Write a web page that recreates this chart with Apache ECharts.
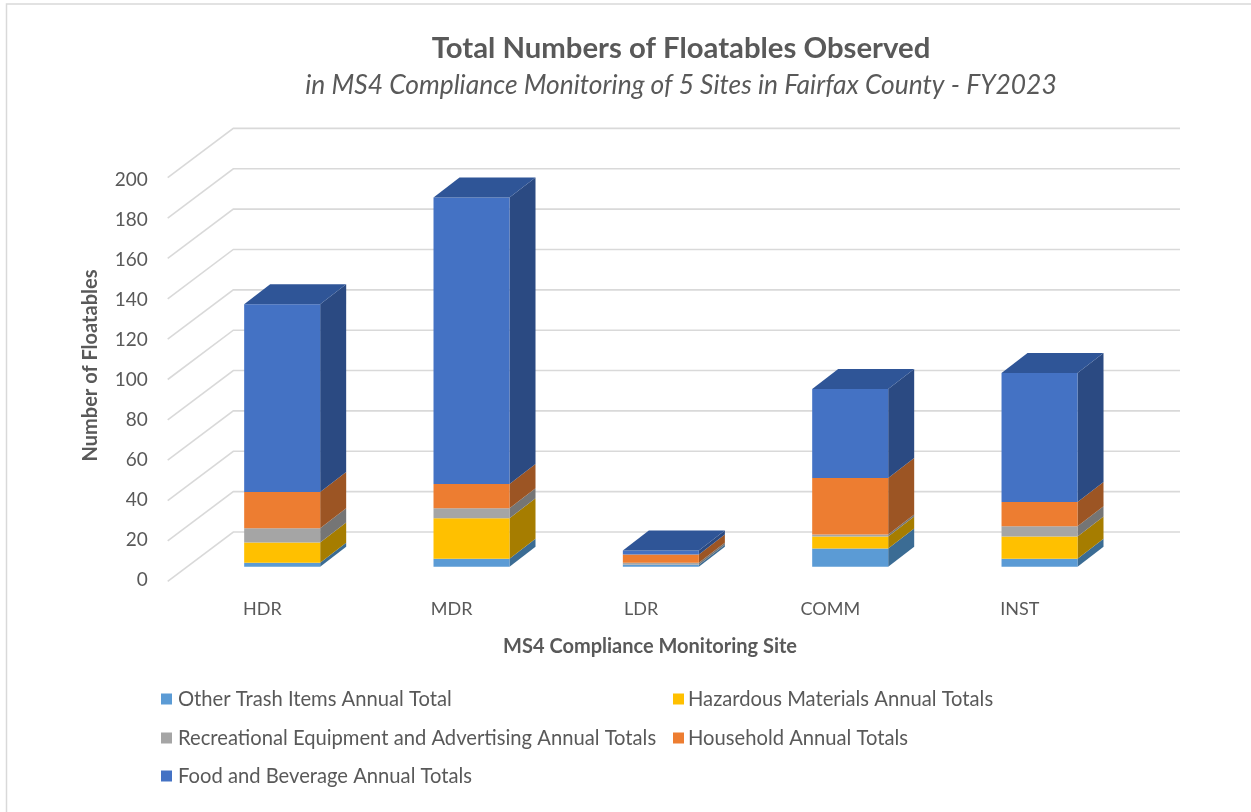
<!DOCTYPE html>
<html>
<head>
<meta charset="utf-8">
<style>html,body{margin:0;padding:0;background:#fff}#c{width:1251px;height:812px}</style>
<script src="https://cdn.jsdelivr.net/npm/echarts@6/dist/echarts.min.js"></script>
</head>
<body>
<div id="c"></div>
<script>
const categories = ['HDR','MDR','LDR','COMM','INST'];
const otherTrash = [2,4,1,9,4];
const hazardous = [10,20,0,6,11];
const recreational = [7,5,1,1,5];
const household = [18,12,4,28,12];
const foodBeverage = [93,142,2,44,64];
const yTicks = [0,20,40,60,80,100,120,140,160,180,200];
const seriesNames = ['Other Trash Items Annual Total','Hazardous Materials Annual Totals','Recreational Equipment and Advertising Annual Totals','Household Annual Totals','Food and Beverage Annual Totals'];
const seriesValues = [otherTrash,hazardous,recreational,household,foodBeverage];
const faceColors = ['#5B9BD5','#FFC000','#A5A5A5','#ED7D31','#4472C4'];
const sideColors = ['#3B6C94','#A67D00','#757575','#9C5524','#2B4A82'];
const topColor = '#2F5597';

const FONT = 'Lato, "Open Sans", sans-serif';
const TEXT = '#595959';
const WALL_DX = 65.6, WALL_DY = 49.3;
const BAR_DX = 26, BAR_DY = 20;
const BAR_OFFSET_X = 19.8, BAR_OFFSET_Y = 14.6;
const BAR_W = 76;

function wallItem(params, api){
  const v = api.value(0);
  const p = api.coord([0, v]);
  const band = api.size([1,0])[0];
  const x0 = p[0] - band/2;
  const x1 = x0 + band*categories.length;
  return {
    type:'polyline',
    shape:{points:[[x0,p[1]],[x0+WALL_DX,p[1]-WALL_DY],[x1+WALL_DX,p[1]-WALL_DY]]},
    style:{stroke:'#D9D9D9',lineWidth:1.6,fill:null},
    silent:true
  };
}

function barItem(params, api){
  const idx = params.seriesIndex - 1;
  const a = api.coord([api.value(0), api.value(1)]);
  const b = api.coord([api.value(0), api.value(2)]);
  if (api.value(1) === api.value(2)) return null;
  const xl = a[0] + BAR_OFFSET_X - BAR_W/2;
  const xr = xl + BAR_W;
  const y0 = a[1] - BAR_OFFSET_Y;
  const y1 = b[1] - BAR_OFFSET_Y;
  const children = [
    {type:'polygon',shape:{points:[[xr,y0],[xr+BAR_DX,y0-BAR_DY],[xr+BAR_DX,y1-BAR_DY],[xr,y1]]},style:{fill:sideColors[idx]}},
    {type:'rect',shape:{x:xl,y:y1,width:BAR_W,height:y0-y1},style:{fill:faceColors[idx]}}
  ];
  if (idx === seriesValues.length-1) {
    children.push({type:'polygon',shape:{points:[[xl,y1],[xl+BAR_DX,y1-BAR_DY],[xr+BAR_DX,y1-BAR_DY],[xr,y1]]},style:{fill:topColor}});
  }
  return {type:'group',children};
}

const running = categories.map(()=>0);
const barSeries = seriesNames.map((name,i)=>({
  name,
  type:'custom',
  xAxisIndex:1,yAxisIndex:1,
  coordinateSystem:'cartesian2d',
  renderItem:barItem,
  itemStyle:{color:faceColors[i]},
  encode:{x:0,y:[1,2]},
  silent:true,
  data:seriesValues[i].map((v,c)=>{const s=running[c];running[c]=s+v;return [c,s,s+v];})
}));

const legendRow = (names,left,top,pad)=>({
  data:names,left,top,icon:'rect',itemWidth:11,itemHeight:11,itemGap:0,selectedMode:false,
  padding:0,orient:'horizontal',
  textStyle:{color:TEXT,fontFamily:FONT,fontSize:20.2,padding:[0,0,8,pad]}
});

const chart = echarts.init(document.getElementById('c'),null,{renderer:'canvas'});
chart.setOption({
  animation:false,
  backgroundColor:'#fff',
  title:[
    {text:'Total Numbers of Floatables Observed',left:676,top:29.5,textAlign:'center',
     textStyle:{color:TEXT,fontFamily:FONT,fontSize:29.3,fontWeight:'bold'}},
    {text:'in MS4 Compliance Monitoring of 5 Sites in Fairfax County - FY2023',left:676,top:67.3,textAlign:'center',
     textStyle:{color:TEXT,fontFamily:FONT,fontSize:26.4,fontStyle:'italic',fontWeight:'normal'}}
  ],
  legend:[
    legendRow([seriesNames[0]],161,689,1),
    legendRow([seriesNames[1]],673,689,-1),
    legendRow([seriesNames[2]],161,728,1),
    legendRow([seriesNames[3]],673,728,-1),
    legendRow([seriesNames[4]],161,766,1)
  ],
  graphic:[{type:'rect',silent:true,z:-10,shape:{x:6.5,y:4,width:1300,height:900},style:{fill:null,stroke:'#D9D9D9',lineWidth:1.5}}],
  grid:[
    {left:167.7,top:180,width:946.7,height:400},
    {left:167.7,top:177.7,width:946.7,height:403.6}
  ],
  xAxis:[
    {gridIndex:0,type:'category',data:categories,
     axisLine:{show:false},axisTick:{show:false},
     axisLabel:{color:TEXT,fontFamily:FONT,fontSize:18,margin:20},
     name:'MS4 Compliance Monitoring Site',nameLocation:'middle',nameGap:57,
     nameTextStyle:{color:TEXT,fontFamily:FONT,fontSize:20,fontWeight:'bold',padding:[0,0,0,18]}},
    {gridIndex:1,type:'category',data:categories,show:false}
  ],
  yAxis:[
    {gridIndex:0,type:'value',min:0,max:200,interval:20,
     axisLine:{show:false},axisTick:{show:false},splitLine:{show:false},
     axisLabel:{color:TEXT,fontFamily:FONT,fontSize:19,margin:20},
     name:'Number of Floatables',nameLocation:'middle',nameGap:67,nameRotate:90,
     nameTextStyle:{color:TEXT,fontFamily:FONT,fontSize:20,fontWeight:'bold',padding:[0,0,0,29]}},
    {gridIndex:1,type:'value',min:0,max:200,interval:20,show:false,splitLine:{show:false}}
  ],
  series:[
    {type:'custom',xAxisIndex:1,yAxisIndex:1,renderItem:wallItem,silent:true,encode:{y:0},data:yTicks.map(v=>[v]),z:1}
  ].concat(barSeries.map(s=>Object.assign(s,{z:2})))
});
</script>
</body>
</html>
